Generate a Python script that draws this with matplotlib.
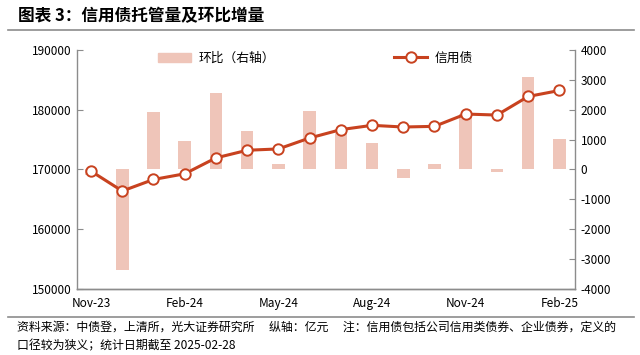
import matplotlib.pyplot as plt
from matplotlib.lines import Line2D

plt.rcParams['font.family'] = ['Noto Sans CJK SC', 'DejaVu Sans']
plt.rcParams['axes.unicode_minus'] = False

# 月份（2023-11 至 2025-02）
months = ["Nov-23", "Dec-23", "Jan-24", "Feb-24", "Mar-24", "Apr-24", "May-24", "Jun-24",
          "Jul-24", "Aug-24", "Sep-24", "Oct-24", "Nov-24", "Dec-24", "Jan-25", "Feb-25"]
# 信用债托管量（亿元，左轴）
credit = [169720, 166400, 168330, 169280, 171940, 173220, 173440, 175270,
          176670, 177390, 177110, 177220, 179280, 179110, 182220, 183220]
# 环比增量（亿元，右轴）
mom = [-200, -3360, 1940, 970, 2570, 1290, 200, 1970,
       1220, 880, -290, 180, 1850, -90, 3110, 1030]

BAR_C = "#EFC5B9"
LINE_C = "#C8421F"
GRAY = "#8C8C8C"

fig = plt.figure(figsize=(6.4, 3.55), dpi=100)
ax = fig.add_axes([0.1203, 0.1859, 0.7781, 0.6733])
ax2 = ax.twinx()

x = list(range(len(months)))
ax2.bar(x, mom, width=0.4, color=BAR_C, zorder=1)
ax.plot(x, credit, color=LINE_C, lw=2.2, marker="o", ms=7.5, mfc="white",
        mec=LINE_C, mew=1.4, zorder=3)

ax.set_zorder(ax2.get_zorder() + 1)
ax.patch.set_visible(False)

ax.set_xlim(-0.45, 15.5)
ax.set_ylim(150000, 190000)
ax.set_yticks(range(150000, 190001, 10000))
ax2.set_ylim(-4000, 4000)
ax2.set_yticks(range(-4000, 4001, 1000))

ax.set_xticks(x[::3])
ax.set_xticklabels(months[::3])

for a in (ax, ax2):
    a.spines["top"].set_visible(False)
    for s in ("left", "right", "bottom"):
        a.spines[s].set_color(GRAY)
        a.spines[s].set_linewidth(1.0)
    a.tick_params(axis="y", direction="in", length=4, color=GRAY, labelsize=8.5, pad=4)
    a.tick_params(axis="x", length=0, labelsize=8.5, pad=6)
ax.spines["right"].set_visible(False)
ax2.spines["left"].set_visible(False)

handles = [plt.Rectangle((0, 0), 1, 1, color=BAR_C),
           Line2D([], [], color=LINE_C, lw=2.2, marker="o", ms=7.5, mfc="white", mec=LINE_C, mew=1.4)]
fig.legend(handles, ["环比（右轴）", "信用债"], ncol=2, frameon=False, fontsize=9.2,
           loc="center", bbox_to_anchor=(0.493, 0.836), columnspacing=9.3, handlelength=2.6,
           handletextpad=0.6)

fig.text(0.028, 0.955, "图表 3：信用债托管量及环比增量", fontsize=12, fontweight="bold",
         va="center", ha="left")
fig.add_artist(Line2D([0.012, 0.99], [0.915, 0.915], color=GRAY, lw=1.2))
fig.add_artist(Line2D([0.012, 0.99], [0.107, 0.107], color=GRAY, lw=1.2))

fig.text(0.027, 0.078, "资料来源：中债登，上清所，光大证券研究所　 纵轴：亿元　 注：信用债包括公司信用类债券、企业债券，定义的",
         fontsize=8.6, va="center", ha="left")
fig.text(0.027, 0.027, "口径较为狭义；统计日期截至 2025-02-28", fontsize=8.6, va="center", ha="left")

fig.savefig("out.png", dpi=100)
